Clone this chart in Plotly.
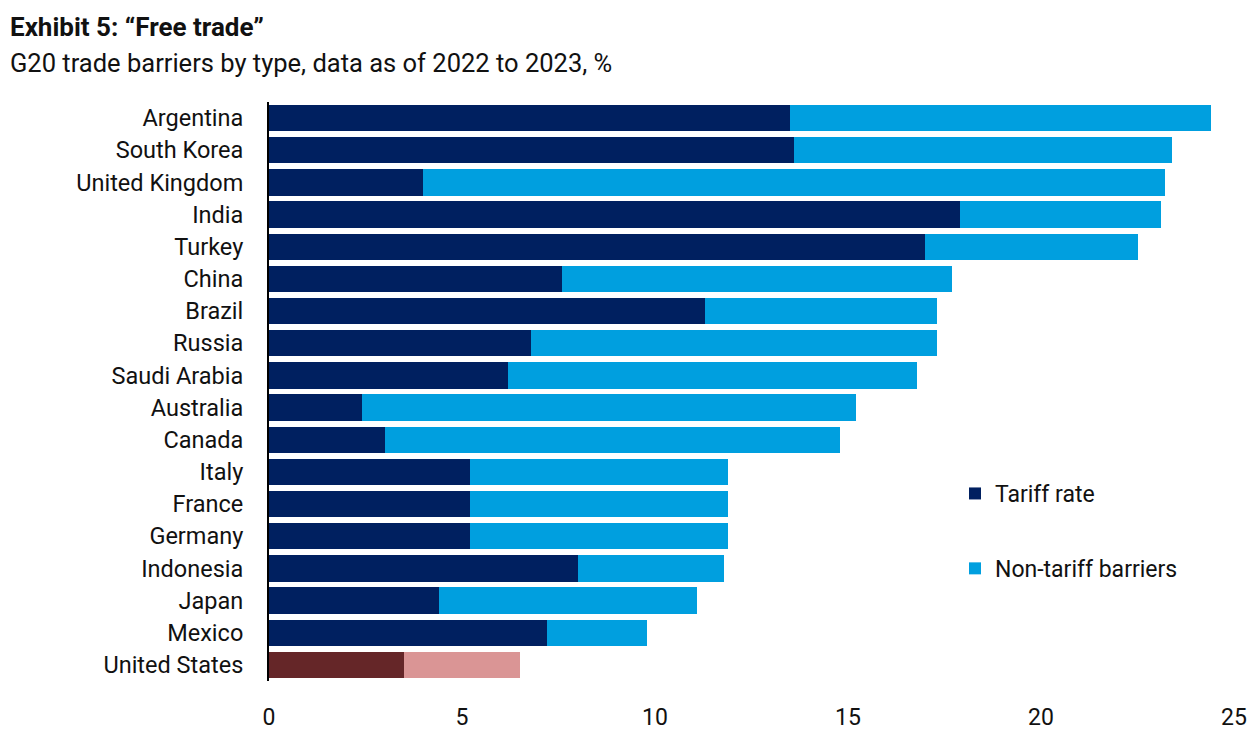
import plotly.graph_objects as go

countries = ["Argentina", "South Korea", "United Kingdom", "India", "Turkey", "China",
             "Brazil", "Russia", "Saudi Arabia", "Australia", "Canada", "Italy", "France",
             "Germany", "Indonesia", "Japan", "Mexico", "United States"]
tariff = [13.5, 13.6, 4.0, 17.9, 17.0, 7.6, 11.3, 6.8, 6.2, 2.4, 3.0, 5.2, 5.2, 5.2, 8.0, 4.4, 7.2, 3.5]
total = [24.4, 23.4, 23.2, 23.1, 22.5, 17.7, 17.3, 17.3, 16.8, 15.2, 14.8, 11.9, 11.9, 11.9, 11.8, 11.1, 9.8, 6.5]
non_tariff = [round(t - a, 2) for t, a in zip(total, tariff)]

NAVY, LBLUE = "#002060", "#009FDF"
US_DARK, US_LIGHT = "#652628", "#DA9595"
tariff_colors = [US_DARK if c == "United States" else NAVY for c in countries]
nt_colors = [US_LIGHT if c == "United States" else LBLUE for c in countries]

FONT = "Roboto"

fig = go.Figure()
fig.add_trace(go.Bar(y=countries, x=tariff, orientation="h", name="Tariff rate",
                     marker=dict(color=tariff_colors, line=dict(width=0)),
                     legendgroup="a", hoverinfo="x+y"))
fig.add_trace(go.Bar(y=countries, x=non_tariff, orientation="h", name="Non-tariff barriers",
                     marker=dict(color=nt_colors, line=dict(width=0)),
                     legendgroup="b", hoverinfo="x+y"))

# page body has an 8px default margin
OFF = 8
W, H = 1260 - OFF, 736 - OFF
L, R, T, B = 269 - OFF, 26, 102 - OFF, 55
pw = W - L - R
ph = H - T - B

fig.update_layout(
    width=W, height=H,
    barmode="stack", bargap=0.18,
    plot_bgcolor="white", paper_bgcolor="white",
    margin=dict(l=L, r=R, t=T, b=B, autoexpand=False),
    font=dict(family=FONT, size=23, color="#111111"),
    showlegend=True,
    legend=dict(x=(955 - OFF - L) / pw, y=1 - (472 - OFF - T) / ph, xanchor="left", yanchor="top",
                traceorder="grouped", tracegroupgap=42,
                font=dict(family=FONT, size=23, color="#111111"),
                bgcolor="rgba(0,0,0,0)", itemwidth=30),
    xaxis=dict(range=[0, 25], tickvals=[0, 5, 10, 15, 20, 25], showgrid=False,
               zeroline=False, showline=False, ticks="", ticklabelstandoff=20,
               automargin=False,
               tickfont=dict(family=FONT, size=23, color="#111111"), fixedrange=True),
    yaxis=dict(autorange="reversed", showgrid=False, zeroline=False,
               showline=True, linecolor="black", linewidth=2, ticks="",
               ticklabelstandoff=19, automargin=False,
               tickfont=dict(family=FONT, size=23.5, color="#111111"), fixedrange=True),
    annotations=[
        dict(text="<b>Exhibit 5: “Free trade”</b>", xref="paper", yref="paper",
             x=-L / pw, y=1 + (T - 2) / ph, xanchor="left", yanchor="top",
             showarrow=False, font=dict(family=FONT, size=26, color="#111111")),
        dict(text="G20 trade barriers by type, data as of 2022 to 2023, %", xref="paper", yref="paper",
             x=-L / pw, y=1 + (T - 38) / ph, xanchor="left", yanchor="top",
             showarrow=False, font=dict(family=FONT, size=25.5, color="#111111")),
    ],
)

fig.write_html("out.html")
